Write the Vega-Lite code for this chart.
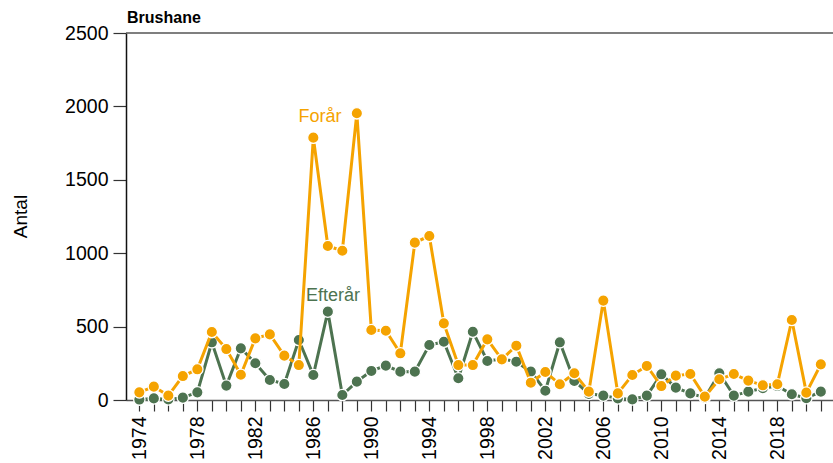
{
  "$schema": "https://vega.github.io/schema/vega-lite/v6.json",
  "width": 707,
  "height": 367,
  "autosize": "none",
  "padding": {"left": 126, "top": 33, "right": 0, "bottom": 63},
  "background": "white",
  "config": {"view": {"stroke": null}, "font": "Liberation Sans"},
  "title": {"text": "Brushane", "anchor": "start", "frame": "group", "fontSize": 16, "fontWeight": "bold", "color": "#000", "offset": -3, "dx": 1},
  "data": {"values": [
    {"year": 1974, "season": "Forår", "count": 52}, {"year": 1975, "season": "Forår", "count": 91}, {"year": 1976, "season": "Forår", "count": 30}, {"year": 1977, "season": "Forår", "count": 163}, {"year": 1978, "season": "Forår", "count": 209}, {"year": 1979, "season": "Forår", "count": 463}, {"year": 1980, "season": "Forår", "count": 347}, {"year": 1981, "season": "Forår", "count": 172}, {"year": 1982, "season": "Forår", "count": 420}, {"year": 1983, "season": "Forår", "count": 447}, {"year": 1984, "season": "Forår", "count": 302}, {"year": 1985, "season": "Forår", "count": 238}, {"year": 1986, "season": "Forår", "count": 1787}, {"year": 1987, "season": "Forår", "count": 1049}, {"year": 1988, "season": "Forår", "count": 1017}, {"year": 1989, "season": "Forår", "count": 1953}, {"year": 1990, "season": "Forår", "count": 477}, {"year": 1991, "season": "Forår", "count": 472}, {"year": 1992, "season": "Forår", "count": 318}, {"year": 1993, "season": "Forår", "count": 1072}, {"year": 1994, "season": "Forår", "count": 1117}, {"year": 1995, "season": "Forår", "count": 522}, {"year": 1996, "season": "Forår", "count": 238}, {"year": 1997, "season": "Forår", "count": 238}, {"year": 1998, "season": "Forår", "count": 413}, {"year": 1999, "season": "Forår", "count": 277}, {"year": 2000, "season": "Forår", "count": 370}, {"year": 2001, "season": "Forår", "count": 118}, {"year": 2002, "season": "Forår", "count": 191}, {"year": 2003, "season": "Forår", "count": 107}, {"year": 2004, "season": "Forår", "count": 182}, {"year": 2005, "season": "Forår", "count": 57}, {"year": 2006, "season": "Forår", "count": 677}, {"year": 2007, "season": "Forår", "count": 45}, {"year": 2008, "season": "Forår", "count": 170}, {"year": 2009, "season": "Forår", "count": 232}, {"year": 2010, "season": "Forår", "count": 95}, {"year": 2011, "season": "Forår", "count": 166}, {"year": 2012, "season": "Forår", "count": 177}, {"year": 2013, "season": "Forår", "count": 23}, {"year": 2014, "season": "Forår", "count": 141}, {"year": 2015, "season": "Forår", "count": 177}, {"year": 2016, "season": "Forår", "count": 132}, {"year": 2017, "season": "Forår", "count": 100}, {"year": 2018, "season": "Forår", "count": 107}, {"year": 2019, "season": "Forår", "count": 545}, {"year": 2020, "season": "Forår", "count": 50}, {"year": 2021, "season": "Forår", "count": 243},
    {"year": 1974, "season": "Efterår", "count": 3}, {"year": 1975, "season": "Efterår", "count": 11}, {"year": 1976, "season": "Efterår", "count": 4}, {"year": 1977, "season": "Efterår", "count": 16}, {"year": 1978, "season": "Efterår", "count": 52}, {"year": 1979, "season": "Efterår", "count": 393}, {"year": 1980, "season": "Efterår", "count": 98}, {"year": 1981, "season": "Efterår", "count": 352}, {"year": 1982, "season": "Efterår", "count": 250}, {"year": 1983, "season": "Efterår", "count": 136}, {"year": 1984, "season": "Efterår", "count": 109}, {"year": 1985, "season": "Efterår", "count": 409}, {"year": 1986, "season": "Efterår", "count": 170}, {"year": 1987, "season": "Efterår", "count": 602}, {"year": 1988, "season": "Efterår", "count": 34}, {"year": 1989, "season": "Efterår", "count": 125}, {"year": 1990, "season": "Efterår", "count": 198}, {"year": 1991, "season": "Efterår", "count": 234}, {"year": 1992, "season": "Efterår", "count": 193}, {"year": 1993, "season": "Efterår", "count": 193}, {"year": 1994, "season": "Efterår", "count": 375}, {"year": 1995, "season": "Efterår", "count": 397}, {"year": 1996, "season": "Efterår", "count": 148}, {"year": 1997, "season": "Efterår", "count": 465}, {"year": 1998, "season": "Efterår", "count": 266}, {"year": 1999, "season": "Efterår", "count": 280}, {"year": 2000, "season": "Efterår", "count": 261}, {"year": 2001, "season": "Efterår", "count": 193}, {"year": 2002, "season": "Efterår", "count": 63}, {"year": 2003, "season": "Efterår", "count": 393}, {"year": 2004, "season": "Efterår", "count": 130}, {"year": 2005, "season": "Efterår", "count": 42}, {"year": 2006, "season": "Efterår", "count": 30}, {"year": 2007, "season": "Efterår", "count": 11}, {"year": 2008, "season": "Efterår", "count": 4}, {"year": 2009, "season": "Efterår", "count": 30}, {"year": 2010, "season": "Efterår", "count": 175}, {"year": 2011, "season": "Efterår", "count": 84}, {"year": 2012, "season": "Efterår", "count": 45}, {"year": 2013, "season": "Efterår", "count": 15}, {"year": 2014, "season": "Efterår", "count": 182}, {"year": 2015, "season": "Efterår", "count": 30}, {"year": 2016, "season": "Efterår", "count": 57}, {"year": 2017, "season": "Efterår", "count": 80}, {"year": 2018, "season": "Efterår", "count": 95}, {"year": 2019, "season": "Efterår", "count": 39}, {"year": 2020, "season": "Efterår", "count": 12}, {"year": 2021, "season": "Efterår", "count": 57}
  ]},
  "encoding": {
    "x": {"field": "year", "type": "quantitative",
      "scale": {"domain": [1973.08, 2021.84], "nice": false, "zero": false},
      "axis": {"title": null, "values": [1974,1975,1976,1977,1978,1979,1980,1981,1982,1983,1984,1985,1986,1987,1988,1989,1990,1991,1992,1993,1994,1995,1996,1997,1998,1999,2000,2001,2002,2003,2004,2005,2006,2007,2008,2009,2010,2011,2012,2013,2014,2015,2016,2017,2018,2019,2020,2021],
        "format": "d", "labelExpr": "(datum.value - 1974) % 4 == 0 ? datum.label : ''",
        "labelAngle": -90, "labelFontSize": 19.5, "labelColor": "#000", "labelPadding": 5, "labelFlush": false, "labelOverlap": false,
        "tickSize": 11, "tickColor": "#333", "tickWidth": 1.2, "domainColor": "#555", "domainWidth": 1.5, "grid": false}},
    "y": {"field": "count", "type": "quantitative",
      "scale": {"domain": [0, 2500], "nice": false},
      "axis": {"title": "Antal", "values": [0, 500, 1000, 1500, 2000, 2500], "format": "d",
        "labelFontSize": 19.5, "labelColor": "#000", "labelPadding": 5, "tickSize": 13, "tickColor": "#333", "tickWidth": 1.2,
        "domainColor": "#111", "domainWidth": 1.5, "grid": false,
        "titleFontSize": 19, "titleFontWeight": "normal", "titleColor": "#000", "titleX": -106, "titleY": 183, "titleAlign": "center", "titleBaseline": "middle", "titleAngle": -90}}
  },
  "layer": [
    {"transform": [{"filter": "datum.year == 1974 && datum.season == 'Forår'"}], "mark": {"type": "rule", "color": "#555", "strokeWidth": 1.5}, "encoding": {"y": {"datum": 2500}, "x": null}},
    {"transform": [{"filter": "datum.season == 'Efterår'"}], "mark": {"type": "line", "color": "#4D7350", "strokeWidth": 3}},
    {"transform": [{"filter": "datum.season == 'Efterår'"}], "mark": {"type": "point", "filled": true, "color": "#4D7350", "size": 130, "stroke": "white", "strokeWidth": 1.3, "opacity": 1}},
    {"transform": [{"filter": "datum.season == 'Forår'"}], "mark": {"type": "line", "color": "#F5A300", "strokeWidth": 3}},
    {"transform": [{"filter": "datum.season == 'Forår'"}], "mark": {"type": "point", "filled": true, "color": "#F5A300", "size": 130, "stroke": "white", "strokeWidth": 1.3, "opacity": 1}},
    {"transform": [{"filter": "datum.year == 1974 && datum.season == 'Forår'"}], "mark": {"type": "text", "color": "#F5A300", "fontSize": 18, "align": "center", "baseline": "middle"}, "encoding": {"x": {"datum": 1986.46}, "y": {"datum": 1928}, "text": {"value": "Forår"}}},
    {"transform": [{"filter": "datum.year == 1974 && datum.season == 'Efterår'"}], "mark": {"type": "text", "color": "#4D7350", "fontSize": 18, "align": "center", "baseline": "middle"}, "encoding": {"x": {"datum": 1987.36}, "y": {"datum": 706}, "text": {"value": "Efterår"}}}
  ]
}
